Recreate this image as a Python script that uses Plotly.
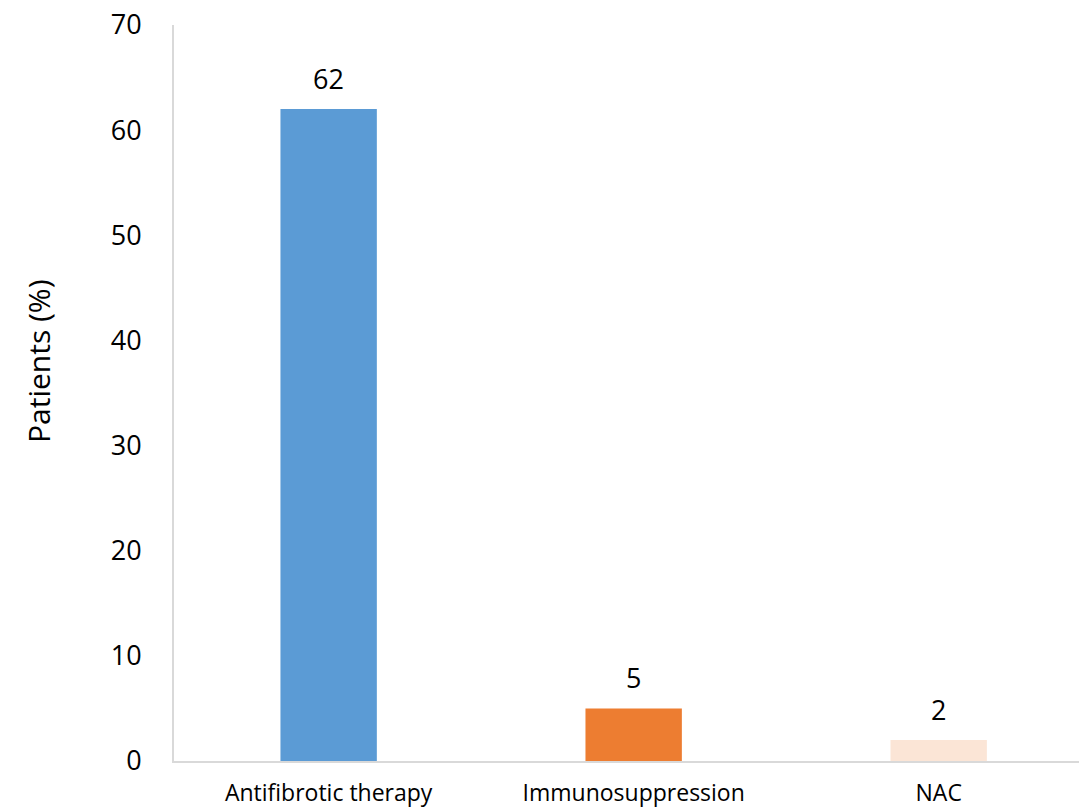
import plotly.graph_objects as go

categories = ["Antifibrotic therapy", "Immunosuppression", "NAC"]
values = [62, 5, 2]
colors = ["#5B9BD5", "#ED7D31", "#FBE5D6"]
y_ticks = [0, 10, 20, 30, 40, 50, 60, 70]

FONT = "Open Sans"

fig = go.Figure()
fig.add_trace(go.Bar(
    x=categories, y=values,
    marker=dict(color=colors, line=dict(width=0)),
    width=0.316,
    hoverinfo="x+y",
))

for c, v in zip(categories, values):
    fig.add_annotation(
        x=c, y=v, xref="x", yref="y",
        text=str(v), showarrow=False,
        yanchor="bottom", yshift=10,
        font=dict(family=FONT, size=27, color="#000000"),
    )

fig.update_layout(
    width=1079, height=809,
    margin=dict(l=174, r=0, t=25, b=48),
    paper_bgcolor="white", plot_bgcolor="white",
    showlegend=False,
    font=dict(family=FONT, color="#000000"),
    xaxis=dict(
        range=[-0.507, 2.46],
        showline=True, linecolor="#D9D9D9", linewidth=2,
        showgrid=False, ticks="", ticklabelstandoff=10,
        tickfont=dict(family=FONT, size=23, color="#000000"),
        fixedrange=True, automargin=False,
    ),
    yaxis=dict(
        range=[0, 70],
        tickvals=y_ticks,
        showline=True, linecolor="#D9D9D9", linewidth=2,
        showgrid=False, zeroline=False, ticks="", ticklabelstandoff=25,
        tickfont=dict(family=FONT, size=27, color="#000000"),
        fixedrange=True, automargin=False,
    ),
)
plot_w = 1079 - 174
plot_h = 809 - 25 - 48
fig.add_annotation(
    text="Patients (%)", textangle=-90,
    x=(38 - 174) / plot_w, xref="paper", xanchor="center",
    y=((809 - 361) - 48) / plot_h, yref="paper", yanchor="middle",
    showarrow=False,
    font=dict(family=FONT, size=30, color="#000000"),
)

fig.write_html("out.html")
